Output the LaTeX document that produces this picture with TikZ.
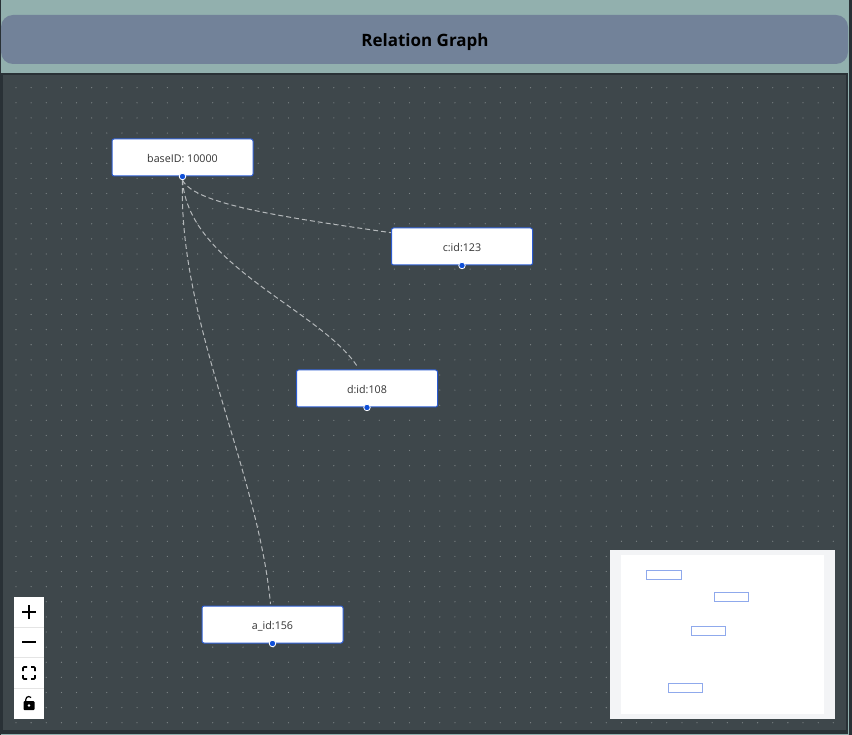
\documentclass[tikz,border=0pt]{standalone}
\usepackage{fontspec}
\setmainfont{Open Sans}
\definecolor{pageGreen}{HTML}{92B0AE}
\definecolor{barBlue}{HTML}{728299}
\definecolor{panelGrey}{HTML}{3E474B}
\definecolor{panelEdge}{HTML}{293136}
\definecolor{dotGrey}{HTML}{7C8385}
\definecolor{nodeBlue}{HTML}{2B5BD0}
\definecolor{dotBlue}{HTML}{0F4FD8}
\definecolor{linkGrey}{HTML}{B4B8BA}
\definecolor{miniBlue}{HTML}{8FA9EC}
\definecolor{miniBand}{HTML}{F3F4F6}
\definecolor{sepGrey}{HTML}{E4E4E4}
\tikzset{
	relnode/.style = {draw = nodeBlue, fill = white, line width = 1pt, rounded corners = 2pt, minimum width = 141pt, minimum height = 37pt, inner sep = 0pt, text = black!80, text height = 10pt, text depth = 0pt, font = \fontsize{10.7}{13}\selectfont},
	handle/.style = {circle, draw = white, fill = dotBlue, line width = 0.8pt, minimum size = 6.5pt, inner sep = 0pt},
	link/.style = {draw = linkGrey, line width = 1pt, dash pattern = on 5pt off 3pt},
	minibox/.style = {draw = miniBlue, line width = 1pt},
	icon/.style = {draw = black, line width = 2pt},
	corner/.style = {draw = black, line width = 1.7pt, rounded corners = 1pt}
}

\begin{document}
\begin{tikzpicture}[x = 1pt, y = -1pt]
	\useasboundingbox (0,0) rectangle (852,735);
	\fill [panelEdge] (0,0) rectangle (852,735);
	\fill [pageGreen] (1,0) rectangle (849,735);
	\fill [barBlue, rounded corners = 12pt] (1,15) rectangle (848,64);
	\node (titleLabel) [font = \fontsize{17}{20}\selectfont\bfseries, text = black] at (425,42) {Relation Graph};

	% graph panel
	\fill [panelEdge] (0,73) rectangle (848,734);
	\fill [panelGrey] (3,75) rectangle (846,730);
	\foreach \i in {0,...,54} {
		\foreach \j in {0,...,42} {
			\fill [dotGrey] ({16 + 15.135*\i},{87.7 + 15.12*\j}) circle (0.65);
		}
	}

	% nodes
	\node (baseNode) [relnode] at (182.5,157.5) {baseID: 10000};
	\node (cNode) [relnode] at (462,246.5) {c:id:123};
	\node (dNode) [relnode] at (367,388.5) {d:id:108};
	\node (aNode) [relnode] at (272.5,624.5) {a\_id:156};

	\node (baseDot) [handle] at (baseNode.south) {};
	\node (cDot) [handle] at (cNode.south) {};
	\node (dDot) [handle] at (dNode.south) {};
	\node (aDot) [handle] at (aNode.south) {};

	% links
	\coordinate (dEnd) at (357,366);
	\coordinate (aEnd) at (270.5,604);
	\draw [link] (baseDot.south) .. controls (195,205) and (290,218) .. (cNode.169);
	\draw [link] (baseDot.south) .. controls (188,265) and (320,310) .. (dEnd);
	\draw [link] (baseDot.south) .. controls (178,320) and (258,470) .. (aEnd);

	% zoom buttons
	\fill [white] (14,597) rectangle (44,719);
	\draw [sepGrey] (14,627.5) -- (44,627.5);
	\draw [sepGrey] (14,657.5) -- (44,657.5);
	\draw [sepGrey] (14,688.5) -- (44,688.5);
	\draw [icon] (22,612) -- (36,612);
	\draw [icon] (29,605) -- (29,619);
	\draw [icon] (22,642) -- (36,642);
	\draw [corner] (23,671) -- (23,667) -- (27,667);
	\draw [corner] (31,667) -- (35,667) -- (35,671);
	\draw [corner] (35,675) -- (35,679) -- (31,679);
	\draw [corner] (27,679) -- (23,679) -- (23,675);
	\draw [black, line width = 1.2pt] (25.8,701) -- (25.8,699.5) arc (180:320:3);
	\fill [black, rounded corners = 1pt] (23.5,701) rectangle (34.5,710);
	\fill [white] (29,705.5) circle (1.3);

	% minimap
	\fill [miniBand] (610,550) rectangle (835,719);
	\fill [white] (621,555) rectangle (824,714);
	\draw [minibox] (646.5,570.5) rectangle (681.5,579.5);
	\draw [minibox] (714.5,592.5) rectangle (748.5,601.5);
	\draw [minibox] (691.5,626.5) rectangle (725.5,635.5);
	\draw [minibox] (668.5,683.5) rectangle (702.5,692.5);
\end{tikzpicture}
\end{document}
